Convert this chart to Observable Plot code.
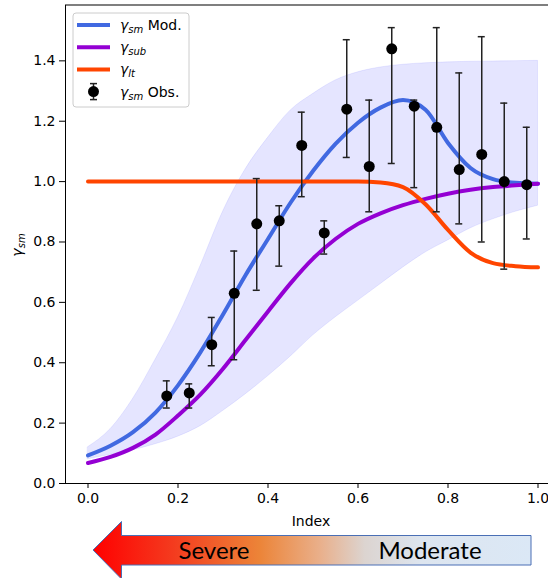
<!DOCTYPE html>
<html>
<head>
<meta charset="utf-8">
<script src="https://cdn.jsdelivr.net/npm/d3@7"></script>
<script src="https://cdn.jsdelivr.net/npm/@observablehq/plot@0.6"></script>
<style>
  html, body { margin: 0; padding: 0; background: white; }
  #wrap { position: relative; width: 548px; height: 578px; overflow: hidden; background: white; }
  #wrap svg { position: absolute; left: 0; top: 0; max-width: none !important; }
</style>
</head>
<body>
<div id="wrap"></div>
<script>
// ---- data ----
const gridX      = [0.00, 0.05, 0.10, 0.15, 0.20, 0.25, 0.30, 0.35, 0.40, 0.45, 0.50, 0.55, 0.60, 0.65, 0.70, 0.75, 0.80, 0.85, 0.90, 0.95, 1.00];
const modValues  = [0.093, 0.125, 0.17, 0.235, 0.325, 0.435, 0.56, 0.69, 0.81, 0.93, 1.035, 1.125, 1.195, 1.245, 1.27, 1.238, 1.128, 1.045, 1.008, 0.996, 0.993];
const subValues  = [0.068, 0.088, 0.118, 0.162, 0.225, 0.295, 0.38, 0.475, 0.57, 0.663, 0.745, 0.81, 0.86, 0.895, 0.922, 0.943, 0.96, 0.973, 0.982, 0.988, 0.993];
const ltValues   = [1.0, 1.0, 1.0, 1.0, 1.0, 1.0, 1.0, 1.0, 1.0, 1.0, 1.0, 1.0, 1.0, 0.997, 0.982, 0.925, 0.84, 0.765, 0.73, 0.72, 0.716];
const bandLower  = [0.08, 0.095, 0.11, 0.13, 0.155, 0.19, 0.24, 0.295, 0.355, 0.42, 0.49, 0.55, 0.605, 0.66, 0.715, 0.765, 0.805, 0.845, 0.875, 0.90, 0.92];
const bandUpper  = [0.12, 0.18, 0.28, 0.41, 0.55, 0.72, 0.90, 1.04, 1.145, 1.235, 1.29, 1.335, 1.362, 1.378, 1.387, 1.392, 1.395, 1.397, 1.398, 1.399, 1.40];

const obsX    = [0.175, 0.225, 0.275, 0.325, 0.375, 0.425, 0.475, 0.525, 0.575, 0.625, 0.675, 0.725, 0.775, 0.825, 0.875, 0.925, 0.975];
const obsY    = [0.29, 0.30, 0.46, 0.63, 0.86, 0.87, 1.12, 0.83, 1.24, 1.05, 1.44, 1.25, 1.18, 1.04, 1.09, 1.00, 0.99];
const obsLow  = [0.25, 0.25, 0.39, 0.41, 0.64, 0.72, 0.95, 0.76, 1.08, 0.90, 1.06, 0.98, 0.90, 0.86, 0.80, 0.71, 0.81];
const obsHigh = [0.34, 0.33, 0.55, 0.77, 1.01, 0.92, 1.23, 0.87, 1.47, 1.27, 1.51, 1.27, 1.51, 1.36, 1.48, 1.26, 1.18];

const xTicks = [0.0, 0.2, 0.4, 0.6, 0.8, 1.0];
const yTicks = [0.0, 0.2, 0.4, 0.6, 0.8, 1.0, 1.2, 1.4];

const xLabel = "Index";
const arrowLeftLabel = "Severe";
const arrowRightLabel = "Moderate";

// ---- tables ----
const curves = gridX.map((x, i) => ({x, mod: modValues[i], sub: subValues[i], lt: ltValues[i], lo: bandLower[i], hi: bandUpper[i]}));
const obs = obsX.map((x, i) => ({x, y: obsY[i], lo: obsLow[i], hi: obsHigh[i]}));

const fmt = d3.format(".1f");
const C_MOD = "#4169e1", C_SUB = "#9400d3", C_LT = "#ff4500", C_ERR = "#222";

const chart = Plot.plot({
  width: 562, height: 530,
  marginLeft: 65, marginRight: 2, marginTop: 4.5, marginBottom: 47,
  x: {domain: [-0.05, 1.05]},
  y: {domain: [0, 1.585]},
  style: {fontFamily: "'DejaVu Sans', sans-serif", fontSize: "14px", color: "black", background: "white", overflow: "visible", maxWidth: "none"},
  marks: [
    Plot.areaY(curves, {x: "x", y1: "lo", y2: "hi", fill: "#0000ff", fillOpacity: 0.1, stroke: "#0000ff", strokeOpacity: 0.08, curve: "monotone-x"}),
    Plot.lineY(curves, {x: "x", y: "mod", stroke: C_MOD, strokeWidth: 4, curve: "monotone-x"}),
    Plot.lineY(curves, {x: "x", y: "sub", stroke: C_SUB, strokeWidth: 4, curve: "monotone-x"}),
    Plot.lineY(curves, {x: "x", y: "lt", stroke: C_LT, strokeWidth: 4, curve: "monotone-x"}),
    Plot.ruleX(obs, {x: "x", y1: "lo", y2: "hi", stroke: C_ERR, strokeWidth: 1.5}),
    Plot.ruleY(obs, {y: "lo", x1: "x", x2: "x", insetLeft: -3.5, insetRight: -3.5, stroke: C_ERR, strokeWidth: 1.5}),
    Plot.ruleY(obs, {y: "hi", x1: "x", x2: "x", insetLeft: -3.5, insetRight: -3.5, stroke: C_ERR, strokeWidth: 1.5}),
    Plot.dot(obs, {x: "x", y: "y", r: 5.5, fill: "black"}),
    Plot.axisX({ticks: xTicks, tickFormat: fmt, tickSize: 5, tickPadding: 5, label: null}),
    Plot.axisY({ticks: yTicks, tickFormat: fmt, tickSize: 6, tickPadding: 4, label: null}),
    Plot.frame({stroke: "black", strokeWidth: 1})
  ]
});
document.getElementById("wrap").appendChild(chart);

const svg = d3.select(chart);

// x label
svg.append("text").attr("x", 311).attr("y", 526).attr("text-anchor", "middle")
  .style("font-family", "'DejaVu Sans', sans-serif").style("font-size", "14px").text(xLabel);

// y label  γ_sm
const yl = svg.append("text").attr("transform", "translate(22,245) rotate(-90)").attr("text-anchor", "middle")
  .style("font-family", "'DejaVu Sans', sans-serif").style("font-size", "14px");
yl.append("tspan").style("font-style", "italic").text("γ");
yl.append("tspan").style("font-style", "italic").style("font-size", "10px").attr("dy", 3).text("sm");

// legend
const lg = svg.append("g").attr("text-anchor", "start")
  .style("font-family", "'DejaVu Sans', sans-serif").style("font-size", "14px");
lg.append("rect").attr("x", 73).attr("y", 13).attr("width", 116).attr("height", 94).attr("rx", 3)
  .attr("fill", "white").attr("fill-opacity", 0.85).attr("stroke", "#cccccc");
const rows = [
  {type: "line", color: C_MOD, sub: "sm", tail: " Mod."},
  {type: "line", color: C_SUB, sub: "sub", tail: ""},
  {type: "line", color: C_LT,  sub: "lt", tail: ""},
  {type: "obs",  color: "black", sub: "sm", tail: " Obs."}
];
rows.forEach((r, i) => {
  const cy = 25 + i * 22.2;
  if (r.type === "line") {
    lg.append("line").attr("x1", 77).attr("x2", 110).attr("y1", cy).attr("y2", cy)
      .attr("stroke", r.color).attr("stroke-width", 4);
  } else {
    lg.append("line").attr("x1", 93.5).attr("x2", 93.5).attr("y1", cy - 8).attr("y2", cy + 8).attr("stroke", C_ERR).attr("stroke-width", 1.5);
    lg.append("line").attr("x1", 90).attr("x2", 97).attr("y1", cy - 8).attr("y2", cy - 8).attr("stroke", C_ERR).attr("stroke-width", 1.5);
    lg.append("line").attr("x1", 90).attr("x2", 97).attr("y1", cy + 8).attr("y2", cy + 8).attr("stroke", C_ERR).attr("stroke-width", 1.5);
    lg.append("circle").attr("cx", 93.5).attr("cy", cy).attr("r", 5.5).attr("fill", "black");
  }
  const t = lg.append("text").attr("x", 120).attr("y", cy + 5).attr("text-anchor", "start");
  t.append("tspan").style("font-style", "italic").text("γ");
  t.append("tspan").style("font-style", "italic").style("font-size", "10px").attr("dy", 3).text(r.sub);
  if (r.tail) t.append("tspan").attr("dy", -3).text(r.tail);
});

// arrow banner below the chart
const ar = d3.select("#wrap").append("svg").attr("width", 548).attr("height", 578)
  .style("pointer-events", "none");
const grad = ar.append("defs").append("linearGradient").attr("id", "sev")
  .attr("x1", "0%").attr("x2", "100%").attr("y1", "0%").attr("y2", "0%");
[["0%", "#ff0000"], ["18%", "#f43a1e"], ["38%", "#ec8438"], ["52%", "#e9b08c"], ["62%", "#dcd4d0"], ["75%", "#dde5ef"], ["100%", "#dbe8f6"]]
  .forEach(([o, c]) => grad.append("stop").attr("offset", o).attr("stop-color", c));
ar.append("path")
  .attr("d", "M93,550 L121.5,521.5 L121.5,535.5 L531,535.5 L531,565 L121.5,565 L121.5,579 Z")
  .attr("fill", "url(#sev)").attr("stroke", "#4a6fb5").attr("stroke-width", 1);
ar.append("text").attr("x", 214).attr("y", 559).attr("text-anchor", "middle")
  .style("font-family", "Lato, sans-serif").style("font-size", "24px").attr("fill", "black").text(arrowLeftLabel);
ar.append("text").attr("x", 430).attr("y", 559).attr("text-anchor", "middle")
  .style("font-family", "Lato, sans-serif").style("font-size", "24px").attr("fill", "black").text(arrowRightLabel);
</script>
</body>
</html>
